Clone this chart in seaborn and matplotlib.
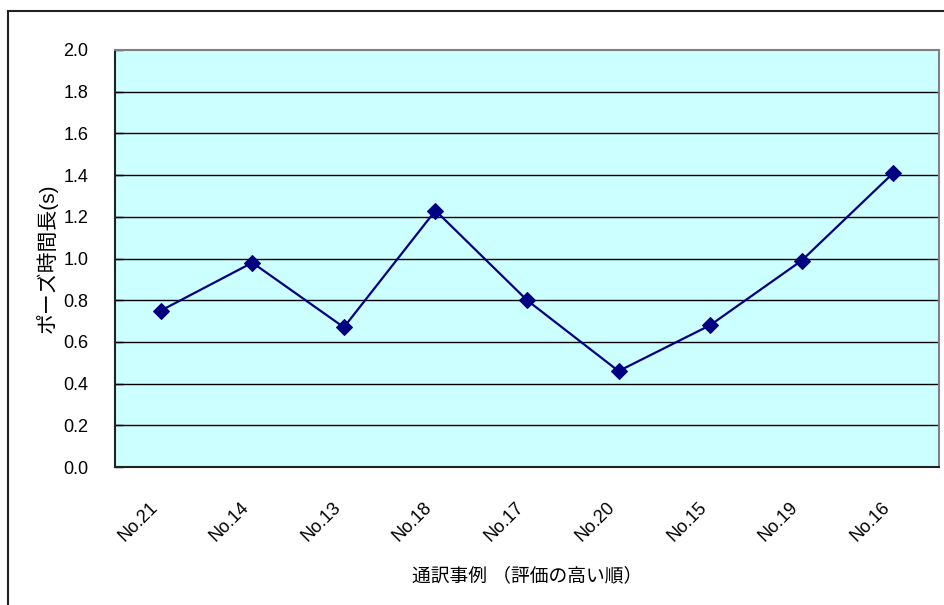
import matplotlib
matplotlib.use("Agg")
import matplotlib.pyplot as plt
import matplotlib.patches as mpatches
import numpy as np
import pandas as pd
import seaborn as sns

# 通訳事例ごとのポーズ時間長（評価の高い順）
cases = ["No.21", "No.14", "No.13", "No.18", "No.17", "No.20", "No.15", "No.19", "No.16"]
pause_sec = [0.75, 0.98, 0.67, 1.23, 0.80, 0.46, 0.68, 0.99, 1.41]
y_ticks = [0.0, 0.2, 0.4, 0.6, 0.8, 1.0, 1.2, 1.4, 1.6, 1.8, 2.0]

sns.set_theme(style="white")
plt.rcParams["font.family"] = ["Liberation Sans", "Noto Sans CJK JP", "DejaVu Sans"]
plt.rcParams["text.color"] = "black"
plt.rcParams["axes.labelcolor"] = "black"
plt.rcParams["xtick.color"] = "black"
plt.rcParams["ytick.color"] = "black"

df = pd.DataFrame({"pos": np.arange(len(cases)), "case": cases, "pause": pause_sec})

fig = plt.figure(figsize=(9.45, 6.05), dpi=100)
W, H = 945, 605
ax = fig.add_axes([115 / W, 1 - 467 / H, (939 - 115) / W, (467 - 50) / H])
ax.set_facecolor("#CCFFFF")

for v in y_ticks[1:-1]:
    ax.axhline(v, color="black", linewidth=1.0, zorder=1)

sns.lineplot(data=df, x="pos", y="pause", sort=False, ax=ax, color="#000080",
             linewidth=1.6, marker="D", markersize=8.5, markeredgecolor="#000080",
             zorder=3)

ax.set_xlim(-0.5, len(cases) - 0.5)
ax.set_ylim(0, 2.0)
ax.set_yticks(y_ticks)
ax.set_yticklabels([f"{v:.1f}" for v in y_ticks], fontsize=13)
ax.set_xticks(np.arange(len(cases)))
ax.set_xticklabels(cases, rotation=45, ha="right", rotation_mode="default", fontsize=13)
ax.set_xticks(np.arange(-0.5, len(cases)), minor=True)
ax.tick_params(axis="x", which="major", length=0, pad=23)
ax.tick_params(axis="x", which="minor", direction="in", length=7, width=1, color="black")
ax.tick_params(axis="y", which="major", direction="in", length=6, width=1,
               color="black", pad=19, left=True)

ax.set_xlabel("通訳事例 （評価の高い順）", fontsize=13.5, labelpad=16)
ax.set_ylabel("ポーズ時間長(s)", fontsize=15, labelpad=4)

for side in ["top", "right"]:
    ax.spines[side].set_color("#808080")
    ax.spines[side].set_linewidth(1.5)
for side in ["left", "bottom"]:
    ax.spines[side].set_color("#222222")
    ax.spines[side].set_linewidth(1.5)
    ax.spines[side].set_visible(True)

# 図全体の外枠（上辺と左辺のみ見える）
frame = mpatches.Rectangle((8 / W, -0.1), 1.1, 1 - 11 / H + 0.1,
                           transform=fig.transFigure, fill=False,
                           edgecolor="#222222", linewidth=1.5)
fig.patches.append(frame)

fig.savefig("out.png", dpi=100)
